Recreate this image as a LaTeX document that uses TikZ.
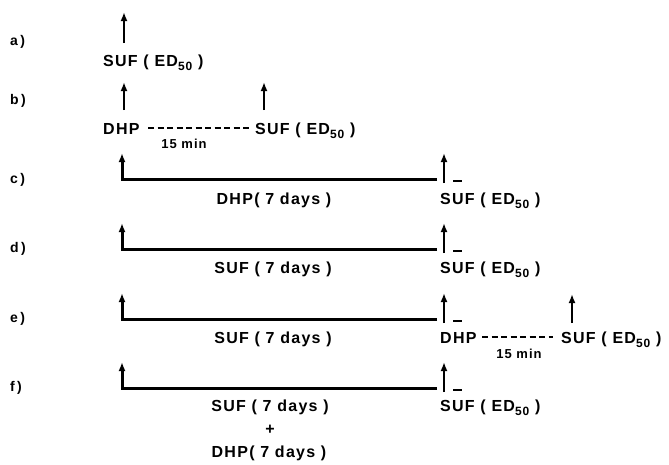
\documentclass[tikz,border=0pt]{standalone}
\usepackage{fontspec}
\setmainfont{Liberation Sans}[LetterSpace=8]
\usetikzlibrary{arrows.meta}

\tikzset{
    txt/.style={anchor=base west, inner sep=0pt, font=\bfseries\fontsize{16}{18}\selectfont},
    ctxt/.style={anchor=base, inner sep=0pt, font=\bfseries\fontsize{16}{18}\selectfont},
    mintxt/.style={anchor=base, inner sep=0pt, font=\bfseries\fontsize{13}{15}\selectfont},
    rowlab/.style={anchor=base west, inner sep=0pt, font=\bfseries\fontsize{14}{16}\selectfont},
    dose/.style={line width=2.8pt, -{Latex[length=9pt,width=7pt]}},
    period/.style={line width=3pt, line join=miter, -{Latex[length=9pt,width=7pt]}},
    wait/.style={line width=2.4pt, dash pattern=on 6pt off 3.5pt},
    tickmark/.style={line width=2.8pt}
}

\newcommand{\sufed}{SUF ( ED\raisebox{-4pt}{\fontsize{12}{14}\selectfont 50} )}

\begin{document}
\begin{tikzpicture}[x=1pt, y=-1pt]
    \useasboundingbox (0,0) rectangle (669,464);

    % Row labels
    \node[rowlab] (la) at (10,45) {a\,)};
    \node[rowlab] (lb) at (10,104) {b\,)};
    \node[rowlab] (lc) at (10,183) {c\,)};
    \node[rowlab] (ld) at (10,252) {d\,)};
    \node[rowlab] (le) at (10,322) {e\,)};
    \node[rowlab] (lf) at (10,391) {f\,)};

    % a) single dose
    \coordinate (a0) at (124,43);
    \coordinate (a1) at (124,12);
    \draw[dose] (a0) -- (a1);
    \node[txt] (asuf) at (103,66) {\sufed};

    % b) DHP then SUF after 15 min
    \coordinate (b0) at (124,110);
    \coordinate (b1) at (124,82);
    \coordinate (b2) at (264,110);
    \coordinate (b3) at (264,82);
    \draw[dose] (b0) -- (b1);
    \draw[dose] (b2) -- (b3);
    \node[txt] (bdhp) at (103,134) {DHP};
    \node[txt] (bsuf) at (255,134) {\sufed};
    \coordinate (bw0) at (148,128);
    \coordinate (bw1) at (251,128);
    \draw[wait] (bw0) -- (bw1);
    \node[mintxt] (bmin) at (184,148) {15 min};

    % c) DHP for 7 days
    \coordinate (c-start) at (122,179);
    \coordinate (c-end) at (437,179);
    \coordinate (c-top) at (122,153);
    \draw[period] (c-end) -- (c-start) -- (c-top);
    \coordinate (c-r0) at (444,183);
    \coordinate (c-r1) at (444,153);
    \draw[dose] (c-r0) -- (c-r1);
    \draw[tickmark] (453,181) -- (462,181);
    \node[ctxt] (cdhp) at (274,204) {DHP( 7 days )};
    \node[txt] (csuf) at (440,204) {\sufed};

    % d) SUF for 7 days
    \coordinate (d-start) at (122,249);
    \coordinate (d-end) at (437,249);
    \coordinate (d-top) at (122,223);
    \draw[period] (d-end) -- (d-start) -- (d-top);
    \coordinate (d-r0) at (444,253);
    \coordinate (d-r1) at (444,223);
    \draw[dose] (d-r0) -- (d-r1);
    \draw[tickmark] (453,251) -- (462,251);
    \node[ctxt] (dsuf7) at (273,273) {SUF ( 7 days )};
    \node[txt] (dsuf) at (440,273) {\sufed};

    % e) SUF for 7 days, then DHP and SUF
    \coordinate (e-start) at (122,319);
    \coordinate (e-end) at (437,319);
    \coordinate (e-top) at (122,293);
    \draw[period] (e-end) -- (e-start) -- (e-top);
    \coordinate (e-r0) at (444,323);
    \coordinate (e-r1) at (444,293);
    \draw[dose] (e-r0) -- (e-r1);
    \draw[tickmark] (453,321) -- (462,321);
    \node[ctxt] (esuf7) at (273,343) {SUF ( 7 days )};
    \node[txt] (edhp) at (440,343) {DHP};
    \coordinate (ew0) at (482,337);
    \coordinate (ew1) at (553,337);
    \draw[wait] (ew0) -- (ew1);
    \node[mintxt] (emin) at (519,358) {15 min};
    \coordinate (e-s0) at (572,323);
    \coordinate (e-s1) at (572,294);
    \draw[dose] (e-s0) -- (e-s1);
    \node[txt] (esuf) at (561,343) {\sufed};

    % f) SUF + DHP for 7 days
    \coordinate (f-start) at (122,388);
    \coordinate (f-end) at (437,388);
    \coordinate (f-top) at (122,362);
    \draw[period] (f-end) -- (f-start) -- (f-top);
    \coordinate (f-r0) at (444,392);
    \coordinate (f-r1) at (444,362);
    \draw[dose] (f-r0) -- (f-r1);
    \draw[tickmark] (453,390) -- (462,390);
    \node[ctxt] (fsuf7) at (270,411) {SUF ( 7 days )};
    \node[ctxt] (fplus) at (270,434) {+};
    \node[ctxt] (fdhp7) at (269,457) {DHP( 7 days )};
    \node[txt] (fsuf) at (440,411) {\sufed};

\end{tikzpicture}
\end{document}
